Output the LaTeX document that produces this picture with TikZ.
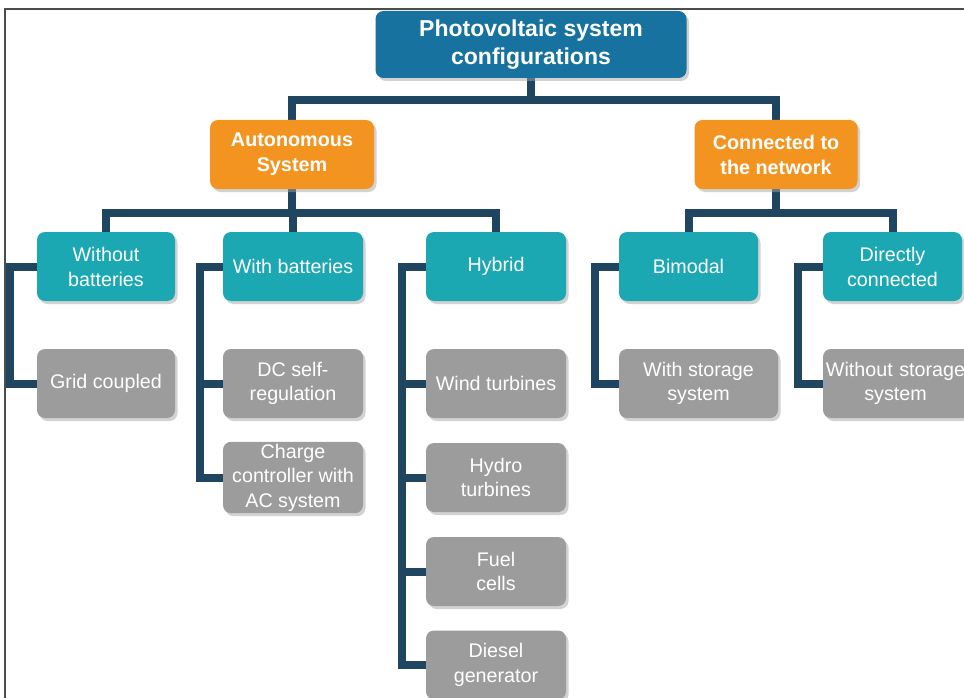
\documentclass[tikz,border=0pt]{standalone}
\usepackage{fontspec}
\setmainfont{Liberation Sans}
\usetikzlibrary{shadows,backgrounds}

\definecolor{rootblue}{HTML}{17729F}
\definecolor{autoorange}{HTML}{F39420}
\definecolor{typeteal}{HTML}{1BA8B3}
\definecolor{leafgray}{HTML}{9C9C9C}
\definecolor{linknavy}{HTML}{1F4560}

\tikzset{
	box/.style={rounded corners=8pt, text=white, align=center, inner sep=2pt,
		drop shadow={shadow xshift=2.5pt, shadow yshift=-3pt, fill=black!35}},
	rootbox/.style={box, fill=rootblue, minimum width=311pt, minimum height=67pt,
		font=\fontsize{23}{28}\selectfont\bfseries},
	groupbox/.style={box, fill=autoorange, minimum width=164pt, minimum height=69pt,
		font=\fontsize{19.8}{25}\selectfont\bfseries},
	typebox/.style={box, fill=typeteal, minimum width=139pt, minimum height=69pt,
		font=\fontsize{19.7}{25}\selectfont},
	leafbox/.style={box, fill=leafgray, minimum width=139pt, minimum height=69pt,
		font=\fontsize{19.7}{24.5}\selectfont},
	link/.style={draw=linknavy, line width=8pt}
}

\begin{document}
\begin{tikzpicture}[x=1pt, y=-1pt]
		\useasboundingbox (0,0) rectangle (964,698);
		\clip (0,0) rectangle (964,698);
		\draw[black!70, line width=1.5pt] (5,698) -- (5,9) -- (964,9);

		\draw (531,44.5) node [rootbox] (root) {Photovoltaic system\\configurations};
		\draw (292,154.5) node [groupbox] (auto) {Autonomous\\System};
		\draw (776,154.5) node [groupbox, minimum width=163pt] (conn) {Connected to\\the network};

		\draw (106,266.5) node [typebox, minimum width=138pt] (nobat) {Without\\batteries};
		\draw (293,266.5) node [typebox, minimum width=140pt] (withbat) {With batteries};
		\draw (496,266.5) node [typebox, minimum width=140pt] (hybrid) {Hybrid};
		\draw (688.5,266.5) node [typebox] (bimodal) {Bimodal};
		\draw (892.5,266.5) node [typebox] (direct) {Directly\\connected};

		\draw (106,383.5) node [leafbox, minimum width=138pt] (grid) {Grid coupled};
		\draw (293,383.5) node [leafbox, minimum width=140pt] (dcself) {DC self-\\regulation};
		\draw (293,477.5) node [leafbox, minimum width=140pt] (charge) {Charge\\controller with\\AC system};
		\draw (496,383.5) node [leafbox, minimum width=140pt] (wind) {Wind turbines};
		\draw (496,477.5) node [leafbox, minimum width=140pt] (hydro) {Hydro\\turbines};
		\draw (496,571.5) node [leafbox, minimum width=140pt] (fuel) {Fuel\\cells};
		\draw (496,665) node [leafbox, minimum width=140pt] (diesel) {Diesel\\generator};
		\draw (698.5,383.5) node [leafbox, minimum width=159pt] (storage) {With storage\\system};
		\draw (902.5,383.5) node [leafbox, minimum width=159pt, text width=155pt] (nostorage) {\hspace*{-14pt}Without storage\\\hspace*{-14pt}system};

		\begin{scope}[on background layer]
		% tree links
		\path[link]
			(root.south) -- ++(0,22) -| (auto.north)
			(root.south) -- ++(0,22) -| (conn.north)
			(auto.south) -- ++(0,24) -| (nobat.north)
			(auto.south) -- ++(0,24) -| (withbat.north)
			(auto.south) -- ++(0,24) -| (hybrid.north)
			(conn.south) -- ++(0,24) -| (bimodal.north)
			(conn.south) -- ++(0,24) -| (direct.north);
		% side links
		\path[link]
			(nobat.west) -- ++(-27,0) |- (grid.west)
			(withbat.west) -- ++(-23,0) |- (dcself.west)
			(withbat.west) -- ++(-23,0) |- (charge.west)
			(hybrid.west) -- ++(-24,0) |- (wind.west)
			(hybrid.west) -- ++(-24,0) |- (hydro.west)
			(hybrid.west) -- ++(-24,0) |- (fuel.west)
			(hybrid.west) -- ++(-24,0) |- (diesel.west)
			(bimodal.west) -- ++(-24,0) |- (storage.west)
			(direct.west) -- ++(-25,0) |- (nostorage.west);
		\end{scope}
	\end{tikzpicture}
\end{document}
